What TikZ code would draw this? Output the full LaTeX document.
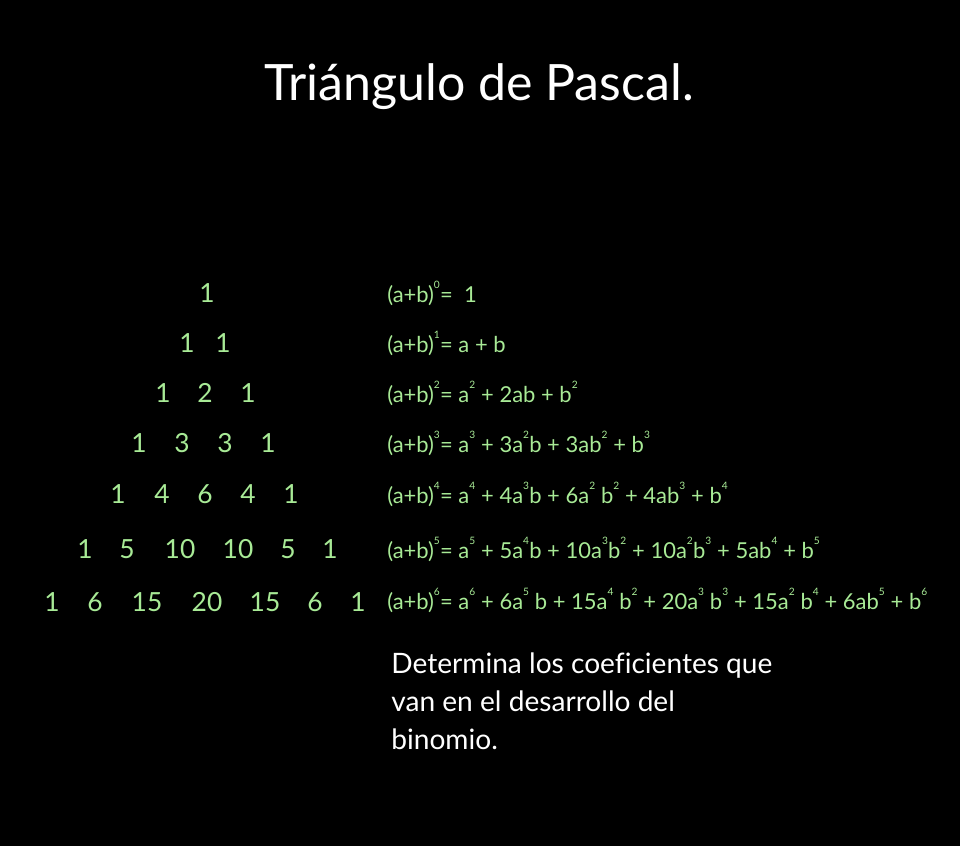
\documentclass[tikz,border=0pt]{standalone}
\usepackage{fontspec}
\setmainfont{Lato}[Ligatures=NoCommon]
\usepackage{xcolor}
\definecolor{pgreen}{RGB}{168,234,150}
% tiny raised exponent, as the picture sets it
\newcommand\pw[1]{\raisebox{0.62em}{\makebox[0.28em][l]{\fontsize{5.8}{5}\selectfont #1}}}

\begin{document}
\begin{tikzpicture}[x=0.02cm,y=-0.02cm,
  num/.style={anchor=base,text=pgreen,font=\fontsize{15}{16}\selectfont,inner sep=0pt},
  eq/.style={anchor=base west,text=pgreen,font=\fontsize{12.5}{13}\selectfont,inner sep=0pt},
  heading/.style={anchor=base,text=white,font=\fontsize{28.5}{30}\selectfont,inner sep=0pt},
  note/.style={anchor=north west,text=white,font=\fontsize{16}{21.8}\selectfont,inner sep=0pt,align=left}]
\fill[black] (0,0) rectangle (960,846);
\useasboundingbox (0,0) rectangle (960,846);
\node[heading] (title) at (479,100) {Triángulo de Pascal.};
% triangle
\node[num] (r1c1) at (207,302) {1};
\node[num] (r2c1) at (187,352) {1};
\node[num] (r2c2) at (223,352) {1};
\node[num] (r3c1) at (163,402) {1};
\node[num] (r3c2) at (205,402) {2};
\node[num] (r3c3) at (248,402) {1};
\node[num] (r4c1) at (139,452) {1};
\node[num] (r4c2) at (182,452) {3};
\node[num] (r4c3) at (225,452) {3};
\node[num] (r4c4) at (268,452) {1};
\node[num] (r5c1) at (118,503) {1};
\node[num] (r5c2) at (162,503) {4};
\node[num] (r5c3) at (205,503) {6};
\node[num] (r5c4) at (248,503) {4};
\node[num] (r5c5) at (291,503) {1};
\node[num] (r6c1) at (85,558) {1};
\node[num] (r6c2) at (127,558) {5};
\node[num] (r6c3) at (180,558) {10};
\node[num] (r6c4) at (238,558) {10};
\node[num] (r6c5) at (288,558) {5};
\node[num] (r6c6) at (330,558) {1};
\node[num] (r7c1) at (52,611) {1};
\node[num] (r7c2) at (95,611) {6};
\node[num] (r7c3) at (147,611) {15};
\node[num] (r7c4) at (207,611) {20};
\node[num] (r7c5) at (265,611) {15};
\node[num] (r7c6) at (315,611) {6};
\node[num] (r7c7) at (358,611) {1};
% expansions
\node[eq] (e0) at (387,302) {(a+b)\pw{0}=\ \ 1};
\node[eq] (e1) at (387,352) {(a+b)\pw{1}= a + b};
\node[eq] (e2) at (387,402) {(a+b)\pw{2}= a\pw{2} + 2ab + b\pw{2}};
\node[eq] (e3) at (387,452) {(a+b)\pw{3}= a\pw{3} + 3a\pw{2}b + 3ab\pw{2} + b\pw{3}};
\node[eq] (e4) at (387,503) {(a+b)\pw{4}= a\pw{4} + 4a\pw{3}b + 6a\pw{2} b\pw{2} + 4ab\pw{3} + b\pw{4}};
\node[eq] (e5) at (387,558) {(a+b)\pw{5}= a\pw{5} + 5a\pw{4}b + 10a\pw{3}b\pw{2} + 10a\pw{2}b\pw{3} + 5ab\pw{4} + b\pw{5}};
\node[eq] (e6) at (387,609) {(a+b)\pw{6}= a\pw{6} + 6a\pw{5} b + 15a\pw{4} b\pw{2} + 20a\pw{3} b\pw{3} + 15a\pw{2} b\pw{4} + 6ab\pw{5} + b\pw{6}};
\node[note] (task) at (391,652) {Determina los coeficientes que\\van en el desarrollo del\\binomio.};
\end{tikzpicture}
\end{document}
